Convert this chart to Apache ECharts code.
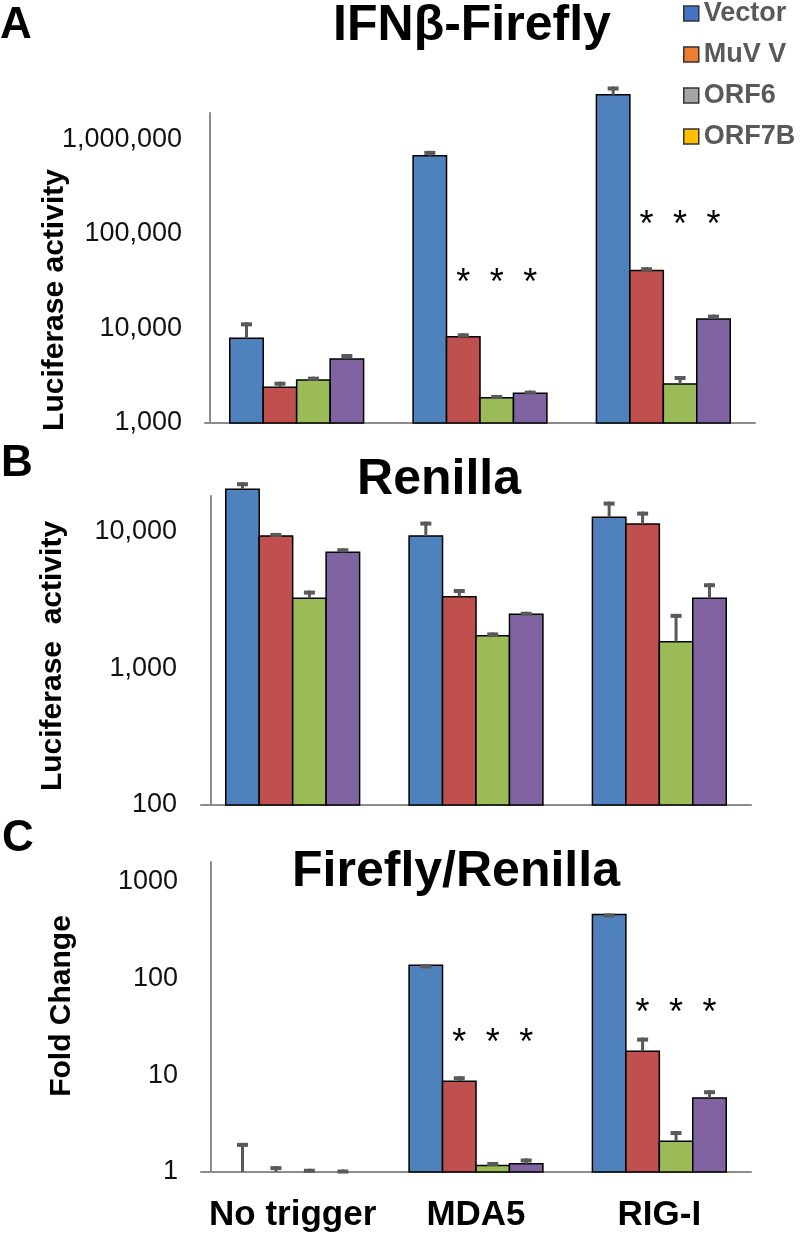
<!DOCTYPE html>
<html>
<head>
<meta charset="utf-8">
<script src="https://cdn.jsdelivr.net/npm/echarts@6/dist/echarts.min.js"></script>
<style>
  html, body { margin: 0; padding: 0; background: #fff; }
  #chart { width: 800px; height: 1235px; }
</style>
</head>
<body>
<div id="chart"></div>
<script>
const categories = ['No trigger', 'MDA5', 'RIG-I'];
const seriesNames = ['Vector', 'MuV V', 'ORF6', 'ORF7B'];
const barColors = ['#4f81bd', '#c0504d', '#9bbb59', '#8064a2'];
const legendColors = ['#4472c4', '#ed7d31', '#a5a5a5', '#ffc000'];

// A: IFNb-Firefly (value, upper error)
const fireflyVector = [7870, 669000, 2960000];
const fireflyMuV = [2390, 8190, 40900];
const fireflyORF6 = [2850, 1850, 2590];
const fireflyORF7B = [4760, 2060, 12600];
const fireflyVectorErr = [3730, 86000, 660000];
const fireflyMuVErr = [345, 700, 3500];
const fireflyORF6Err = [240, 130, 550];
const fireflyORF7BErr = [610, 140, 1400];
const fireflyStars = [null, 36800, 152000];

// B: Renilla
const renillaVector = [20400, 9290, 12730];
const renillaMuV = [9290, 3340, 11370];
const renillaORF6 = [3250, 1730, 1565];
const renillaORF7B = [7060, 2480, 3250];
const renillaVectorErr = [2550, 2540, 3820];
const renillaMuVErr = [480, 460, 2620];
const renillaORF6Err = [450, 100, 935];
const renillaORF7BErr = [490, 110, 940];

// C: Firefly/Renilla fold change
const foldVector = [1, 137, 459];
const foldMuV = [1, 8.67, 17.7];
const foldORF6 = [1, 1.17, 2.08];
const foldORF7B = [1, 1.22, 5.82];
const foldVectorErr = [1.0, 3, 11];
const foldMuVErr = [0.15, 1.1, 6.8];
const foldORF6Err = [0.08, 0.1, 0.57];
const foldORF7BErr = [0.06, 0.16, 1.18];
const foldStars = [null, 25.9, 53];

const FONT = '"Liberation Sans", Arial, sans-serif';
const CAT_GAP = 0.27;

const panels = [
  {
    values: [fireflyVector, fireflyMuV, fireflyORF6, fireflyORF7B],
    errs: [fireflyVectorErr, fireflyMuVErr, fireflyORF6Err, fireflyORF7BErr],
    stars: fireflyStars, min: 1000, max: 1900000,
    grid: {left: 205, right: 45, top: 113, bottom: 812}, axisOffset: -5, labelMargin: 28,
    name: 'Luciferase activity', namePad: [0, 64, 0, 0], nameGap: 140, comma: true
  },
  {
    values: [renillaVector, renillaMuV, renillaORF6, renillaORF7B],
    errs: [renillaVectorErr, renillaMuVErr, renillaORF6Err, renillaORF7BErr],
    stars: null, min: 100, max: 18200,
    grid: {left: 201, right: 49, top: 496, bottom: 430}, axisOffset: -10, labelMargin: 34,
    name: 'Luciferase  activity', namePad: [0, 11, 0, 0], nameGap: 143, comma: true
  },
  {
    values: [foldVector, foldMuV, foldORF6, foldORF7B],
    errs: [foldVectorErr, foldMuVErr, foldORF6Err, foldORF7BErr],
    stars: foldStars, min: 1, max: 1600,
    grid: {left: 201, right: 49, top: 862, bottom: 63}, axisOffset: -10, labelMargin: 33,
    name: 'Fold Change', namePad: [0, 0, 0, 22], nameGap: 134, comma: false
  }
];

// bar + error bar + optional star, placed like a grouped bar chart
function makeRender(min, j) {
  return function (params, api) {
    const cat = api.value(0);
    const val = api.value(1);
    const err = api.value(2);
    const star = api.value(3);
    const band = api.size([1, 0], [cat, val])[0];
    const bw = band * (1 - CAT_GAP) / 4;
    const center = api.coord([cat, val]);
    const base = api.coord([cat, min]);
    const top = api.coord([cat, val + err]);
    const x0 = center[0] + (j - 2) * bw;
    const x = x0 + bw / 2;
    const children = [];
    if (val > min) {
      children.push({
        type: 'rect', shape: {x: x0, y: center[1], width: bw, height: base[1] - center[1]},
        style: {fill: barColors[j], stroke: '#000', lineWidth: 1.5}
      });
    }
    children.push(
      {type: 'line', shape: {x1: x, y1: center[1], x2: x, y2: top[1]}, style: {stroke: '#595959', lineWidth: 3}},
      {type: 'line', shape: {x1: x - 5.5, y1: top[1] + 2, x2: x + 5.5, y2: top[1] + 2}, style: {stroke: '#595959', lineWidth: 4}}
    );
    if (star > 0) {
      const sp = api.coord([cat, star]);
      children.push({
        type: 'text', x: x, y: sp[1] + 9,
        style: {text: '*', font: '36px ' + FONT, fill: '#000', align: 'center', verticalAlign: 'middle'}
      });
    }
    return {type: 'group', children: children};
  };
}

let grids = [], xAxes = [], yAxes = [], series = [];

panels.forEach((p, pi) => {
  grids.push(p.grid);
  xAxes.push({
    type: 'category', gridIndex: pi, data: categories,
    axisLine: {lineStyle: {color: '#8c8c8c', width: 2}},
    axisTick: {show: false},
    axisLabel: {
      show: pi === 2, interval: 0, hideOverlap: false,
      fontFamily: FONT, fontSize: 35, fontWeight: 'bold', color: '#000', margin: 26
    }
  });
  yAxes.push({
    type: 'log', logBase: 10, gridIndex: pi, min: p.min, max: p.max, offset: p.axisOffset,
    axisLine: {show: true, lineStyle: {color: '#8c8c8c', width: 2}},
    axisTick: {show: false},
    splitLine: {show: false},
    axisLabel: {
      fontFamily: FONT, fontSize: 27, color: '#111', margin: p.labelMargin, showMaxLabel: false,
      formatter: v => p.comma ? Math.round(v).toLocaleString('en-US') : String(Math.round(v))
    },
    name: p.name, nameLocation: 'middle', nameRotate: 90, nameGap: p.nameGap, nameMoveOverlap: false,
    nameTextStyle: {fontFamily: FONT, fontSize: 30, fontWeight: 'bold', color: '#000', padding: p.namePad}
  });

  p.values.forEach((vals, j) => {
    series.push({
      name: seriesNames[j], type: 'custom', xAxisIndex: pi, yAxisIndex: pi,
      itemStyle: {color: barColors[j]},
      renderItem: makeRender(p.min, j), encode: {x: 0, y: 1},
      data: vals.map((v, c) => [c, v, p.errs[j][c], (p.stars && j > 0 && p.stars[c]) ? p.stars[c] : 0])
    });
  });
});

const chart = echarts.init(document.getElementById('chart'));
chart.setOption({
  animation: false,
  backgroundColor: '#fff',
  legend: {
    orient: 'vertical', left: 683, top: 0, padding: 0, itemGap: 14,
    itemWidth: 15, itemHeight: 15, icon: 'rect',
    textStyle: {fontFamily: FONT, fontSize: 27, fontWeight: 'bold', color: '#595959', lineHeight: 24},
    data: seriesNames.map((n, i) => ({
      name: n, itemStyle: {color: legendColors[i], borderColor: '#333', borderWidth: 1.5}
    }))
  },
  graphic: [
    {type: 'text', z: 100, x: 472, y: 26, style: {text: 'IFNβ-Firefly', font: 'bold 50px ' + FONT, fill: '#000', align: 'center', verticalAlign: 'middle'}},
    {type: 'text', z: 100, x: 439, y: 480, style: {text: 'Renilla', font: 'bold 50px ' + FONT, fill: '#000', align: 'center', verticalAlign: 'middle'}},
    {type: 'text', z: 100, x: 456, y: 872, style: {text: 'Firefly/Renilla', font: 'bold 50px ' + FONT, fill: '#000', align: 'center', verticalAlign: 'middle'}},
    {type: 'text', z: 100, x: 16, y: 26, style: {text: 'A', font: 'bold 44px ' + FONT, fill: '#000', align: 'center', verticalAlign: 'middle'}},
    {type: 'text', z: 100, x: 17, y: 464, style: {text: 'B', font: 'bold 44px ' + FONT, fill: '#000', align: 'center', verticalAlign: 'middle'}},
    {type: 'text', z: 100, x: 18, y: 839, style: {text: 'C', font: 'bold 44px ' + FONT, fill: '#000', align: 'center', verticalAlign: 'middle'}}
  ],
  grid: grids,
  xAxis: xAxes,
  yAxis: yAxes,
  series: series
});
</script>
</body>
</html>
